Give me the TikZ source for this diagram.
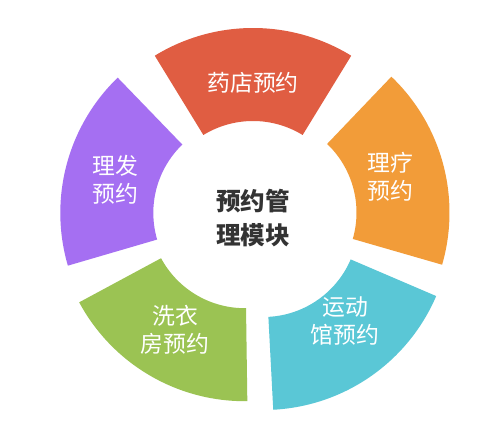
\documentclass[tikz,border=0pt]{standalone}
\usepackage{fontspec}
\usepackage{tikz}
\usetikzlibrary{calc}
\newfontfamily\cjk{Noto Sans CJK SC}
\definecolor{SegRed}   {RGB}{224,93,66}
\definecolor{SegOrange}{RGB}{242,156,57}
\definecolor{SegCyan}  {RGB}{90,199,214}
\definecolor{SegGreen} {RGB}{155,195,83}
\definecolor{SegPurple}{RGB}{165,111,242}
\definecolor{HubText}  {RGB}{51,51,51}
\tikzset{
  seg_lbl/.style={
    text=white, align=center, inner sep=0pt,
    font=\cjk\fontsize{13pt}{16pt}\selectfont},
  hub_lbl/.style={
    text=HubText, align=center, inner sep=0pt,
    font=\cjk\bfseries\fontsize{14pt}{19pt}\selectfont},
}
\def\rOut{188}\def\rIn{95}
%% ring segment: centre x, centre y, start angle, end angle, colour
\newcommand{\ringseg}[5]{%
  \fill[#5] (#1,#2) ++(#3:\rOut) arc[start angle=#3,end angle=#4,radius=\rOut]
    -- ($(#1,#2)+(#4:\rIn)$) arc[start angle=#4,end angle=#3,radius=\rIn] -- cycle;
}

\begin{document}
\begin{tikzpicture}[x=0.02cm,y=0.02cm]
\useasboundingbox[fill=white] (0,0) rectangle (500,425);

%% segments
\ringseg{253}{209}{58.5}{121.5}{SegRed}
\ringseg{261.5}{212.4}{-16.1}{46.3}{SegOrange}
\ringseg{263.4}{203}{-87}{-23.2}{SegCyan}
\ringseg{244.7}{211.8}{208.3}{270.8}{SegGreen}
\ringseg{248.3}{212.1}{134}{196.3}{SegPurple}

%% labels
\node[seg_lbl] at (253,342) (yaodian){药店预约};
\node[seg_lbl] at (390,248) (liliao){理疗\\预约};
\node[seg_lbl] at (345,104) (yundong){运动\\馆预约};
\node[seg_lbl] at (175,95)  (xiyi){洗衣\\房预约};
\node[seg_lbl] at (115,245) (lifa){理发\\预约};
\node[hub_lbl] at (253,207) (hub){预约管\\理模块};

\end{tikzpicture}
\end{document}
